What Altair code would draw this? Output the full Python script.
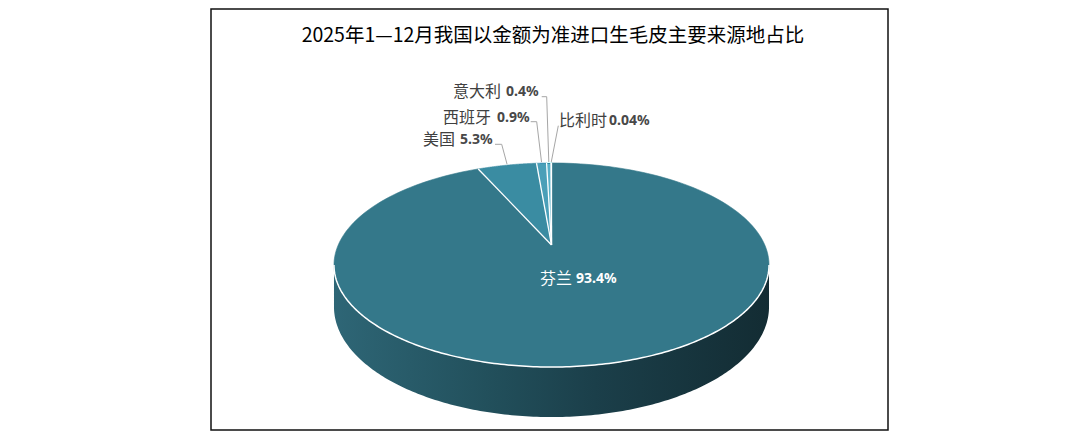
import altair as alt
import pandas as pd
import numpy as np

# ---------------- data ----------------
countries = ["芬兰", "美国", "西班牙", "意大利", "比利时"]
shares = [93.4, 5.3, 0.9, 0.4, 0.04]
share_labels = ["93.4%", "5.3%", "0.9%", "0.4%", "0.04%"]
title_text = "2025年1—12月我国以金额为准进口生毛皮主要来源地占比"

# ---------------- styles / layout ----------------
slice_colors = ["#34788a", "#3a8ca2", "#4a9fb8", "#58b0c8", "#66bdd4"]
text_colors = ["#ffffff", "#404040", "#404040", "#404040", "#404040"]
value_colors = ["#ffffff", "#484848", "#484848", "#484848", "#484848"]
name_x = [540, 423, 443, 453, 559]
value_x = [576, 460, 497, 506, 609]
text_y = [279, 140, 118, 92, 121]
# leader lines (small slices only)
elbow_x = [501.7, 536.7, 546.7, 558.3]
elbow_y = [144.3, 121.7, 96.7, 125.7]
end_x = [495.0, 530.7, 541.7, 558.3]

# projection of the 3D pie (page pixels)
CX, CY = 551.5, 245.0
A, B, K = 213.3, 98.1, 0.196
D = 40.2
N = 180
M = 200

W, H = 677, 421
X0, Y0 = 211, 9
xs = alt.Scale(domain=[X0, X0 + W], nice=False, zero=False)
ys = alt.Scale(domain=[Y0, Y0 + H], nice=False, zero=False, reverse=True)

total = sum(shares)
cum = np.concatenate([[0.0], np.cumsum(shares)]) / total
slices = pd.DataFrame({"country": countries, "value": shares,
                       "s0": cum[:-1], "s1": cum[1:]})
steps = pd.DataFrame({"k": list(range(-1, N + 1))})
pts = slices.merge(steps, how="cross")


def px_expr(t):
    return f"{CX} + {A}*sin({t})/(1+{K}*cos({t}))"


def py_expr(t):
    return f"{CY} - {B}*cos({t})/(1+{K}*cos({t}))"


# ---------- side wall ----------
side = pd.DataFrame({"j": list(range(M + 1)) * 2,
                     "part": [0] * (M + 1) + [1] * (M + 1)})
side_calc = dict(
    t=f"acos(-{K}) + (2*PI - 2*acos(-{K})) * (datum.part == 0 ? datum.j : {M} - datum.j) / {M}",
)
side_base = alt.Chart(side).transform_calculate(**side_calc).transform_calculate(
    sx=px_expr("datum.t"),
    sy=py_expr("datum.t") + f" + datum.part*{D}/(1+{K}*cos(datum.t))",
    ord=f"datum.part*{M + 1} + datum.j",
)
side_grad = alt.Gradient(
    gradient="linear",
    stops=[alt.GradientStop(color="#2e6676", offset=0),
           alt.GradientStop(color="#22505c", offset=0.35),
           alt.GradientStop(color="#1b3f4a", offset=0.6),
           alt.GradientStop(color="#132c33", offset=1)],
    x1=0, x2=1, y1=0, y2=0,
)
side_wall = side_base.mark_line(interpolate="linear-closed", fill=side_grad,
                                strokeWidth=0).encode(
    x=alt.X("sx:Q", scale=xs, axis=None),
    y=alt.Y("sy:Q", scale=ys, axis=None),
    order=alt.Order("ord:Q"),
)
front_edge = side_base.transform_filter("datum.part == 0").mark_line(
    color="white", strokeWidth=1.5).encode(
    x=alt.X("sx:Q", scale=xs, axis=None),
    y=alt.Y("sy:Q", scale=ys, axis=None),
    order=alt.Order("j:Q"),
)

# ---------- top face slices ----------
cscale = alt.Scale(domain=countries, range=slice_colors)
top = alt.Chart(pts).transform_calculate(
    t=f"2*PI*(datum.s0 + (datum.s1 - datum.s0)*max(datum.k, 0)/{N})"
).transform_calculate(
    px=f"datum.k < 0 ? {CX} : " + px_expr("datum.t"),
    py=f"datum.k < 0 ? {CY} : " + py_expr("datum.t"),
).mark_line(interpolate="linear-closed", strokeWidth=0.6).encode(
    x=alt.X("px:Q", scale=xs, axis=None),
    y=alt.Y("py:Q", scale=ys, axis=None),
    order=alt.Order("k:Q"),
    detail="country:N",
    fill=alt.Fill("country:N", scale=cscale, legend=None),
    stroke=alt.Stroke("country:N", scale=cscale, legend=None),
)

# ---------- separators ----------
sep = alt.Chart(slices).transform_calculate(
    t="2*PI*datum.s0",
).transform_calculate(
    cx=f"{CX}", cy=f"{CY}",
    bx=px_expr("datum.t"), by=py_expr("datum.t"),
).mark_rule(color="white", strokeWidth=1.3).encode(
    x=alt.X("cx:Q", scale=xs, axis=None),
    y=alt.Y("cy:Q", scale=ys, axis=None),
    x2="bx:Q", y2="by:Q",
)

# ---------- leader lines ----------
lead_df = slices.iloc[1:].reset_index(drop=True).copy()
lead_df["ex"] = elbow_x
lead_df["ey"] = elbow_y
lead_df["lx"] = end_x
lead_base = alt.Chart(lead_df).transform_calculate(
    t="PI*(datum.s0 + datum.s1)",
).transform_calculate(
    mx=px_expr("datum.t"), my=py_expr("datum.t") + " - 1",
)
lead1 = lead_base.mark_rule(color="#a6a6a6", strokeWidth=1).encode(
    x=alt.X("mx:Q", scale=xs, axis=None),
    y=alt.Y("my:Q", scale=ys, axis=None),
    x2="ex:Q", y2="ey:Q",
)
lead2 = lead_base.mark_rule(color="#a6a6a6", strokeWidth=1).encode(
    x=alt.X("ex:Q", scale=xs, axis=None),
    y=alt.Y("ey:Q", scale=ys, axis=None),
    x2="lx:Q",
)

# ---------- labels ----------
lab_df = pd.DataFrame({"country": countries, "label": share_labels,
                       "nx": name_x, "vx": value_x, "ty": text_y,
                       "nc": text_colors, "vc": value_colors})
names = alt.Chart(lab_df).mark_text(
    align="left", baseline="middle", font="Noto Sans CJK SC", fontSize=16).encode(
    x=alt.X("nx:Q", scale=xs, axis=None),
    y=alt.Y("ty:Q", scale=ys, axis=None),
    text="country:N",
    color=alt.Color("nc:N", scale=None),
)
vals = alt.Chart(lab_df).mark_text(
    align="left", baseline="middle", font="Noto Sans", fontSize=14,
    fontWeight="bold").encode(
    x=alt.X("vx:Q", scale=xs, axis=None),
    y=alt.Y("ty:Q", scale=ys, axis=None),
    text="label:N",
    color=alt.Color("vc:N", scale=None),
)

title = alt.Chart(pd.DataFrame({"title": [title_text]})).mark_text(
    align="center", baseline="middle", font="Noto Sans CJK SC", fontSize=19.5,
    color="#000000").encode(
    x=alt.value(553 - X0), y=alt.value(36 - Y0), text="title:N",
)

chart = alt.layer(
    side_wall, top, front_edge, sep, lead1, lead2, names, vals, title
).properties(
    width=W, height=H,
    padding={"left": 203, "top": 1, "right": 1, "bottom": 1},
    background="white",
).configure_view(stroke="#111111", strokeWidth=1.5)

chart.save("out.html", embed_options={"renderer": "svg", "actions": False})
